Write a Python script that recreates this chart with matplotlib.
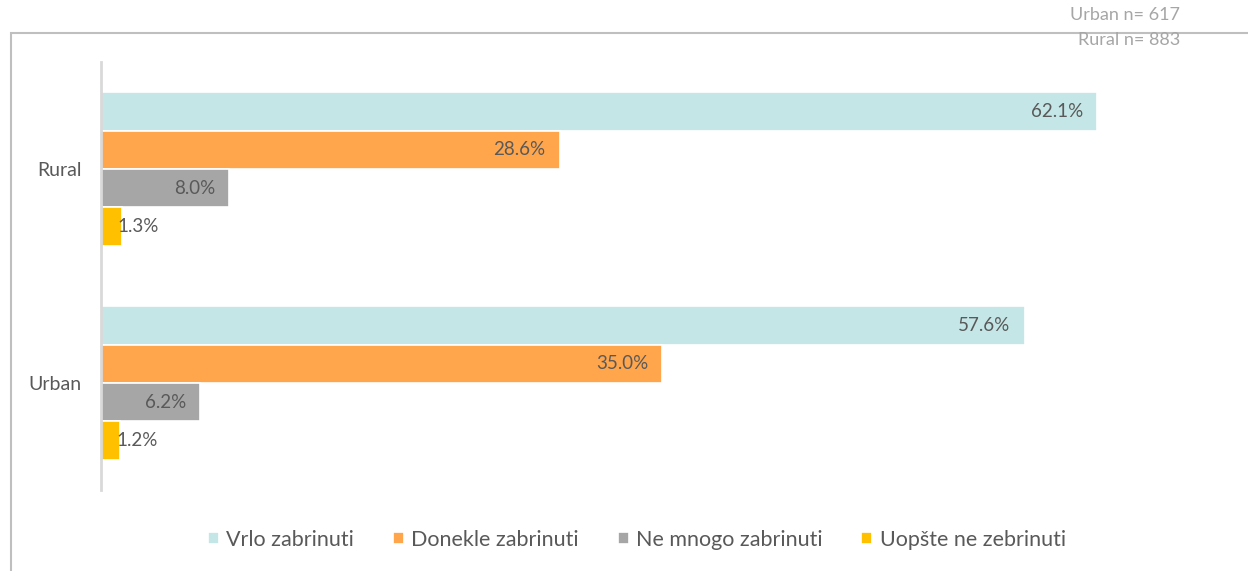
import numpy as np
import matplotlib
matplotlib.use("Agg")
import matplotlib.pyplot as plt
from matplotlib.patches import Rectangle

groups = ["Rural", "Urban"]
series = ["Vrlo zabrinuti", "Donekle zabrinuti", "Ne mnogo zabrinuti", "Uopšte ne zebrinuti"]
vrlo = [62.1, 57.6]
donekle = [28.6, 35.0]
ne_mnogo = [8.0, 6.2]
uopste = [1.3, 1.2]
notes = ["Urban n= 617", "Rural n= 883"]

colors = ["#C5E6E6", "#FFA64D", "#A6A6A6", "#FFC000"]
txt = "#595959"

plt.rcParams['font.family'] = ['Lato', 'DejaVu Sans']

fig = plt.figure(figsize=(12.48, 5.71), dpi=100)
W, H = 1248, 571
ax = fig.add_axes([101 / W, 1 - 490 / H, (1224 - 101) / W, (490 - 62) / H])

y = np.arange(len(groups))
step = 0.179
vals = [vrlo, donekle, ne_mnogo, uopste]
for i, (name, v, c) in enumerate(zip(series, vals, colors)):
    pos = y + (i - 1.5) * step
    ax.barh(pos, v, height=step, color=c, edgecolor="white", linewidth=1.2, label=name)
    for p, val in zip(pos, v):
        lab = f"{val:.1f}%"
        if val < 3:
            ax.text(val - 0.25, p, lab, ha="left", va="center", fontsize=13.5, color=txt)
        else:
            ax.text(val - 0.9, p, lab, ha="right", va="center", fontsize=13.5, color=txt)

ax.set_xlim(0, 70)
ax.set_ylim(1.5, -0.5)
ax.set_yticks(y)
ax.set_yticklabels(groups, fontsize=14, color=txt)
ax.tick_params(axis="y", length=0, pad=14)
ax.set_xticks([])
for s in ["top", "right", "bottom"]:
    ax.spines[s].set_visible(False)
ax.spines["left"].set_color("#D9D9D9")
ax.spines["left"].set_linewidth(2)

# outer frame
fig.patches.append(Rectangle((11 / W, -0.05), 1.1, 1 - 33 / H + 0.05, transform=fig.transFigure,
                             fill=False, edgecolor="#BFBFBF", linewidth=1.5))

fig.text(1180 / W, 1 - 15 / H, notes[0], ha="right", va="center", fontsize=13, color="#A6A6A6")
fig.text(1180 / W, 1 - 40 / H, notes[1], ha="right", va="center", fontsize=13, color="#A6A6A6")

fig.legend(loc="center", bbox_to_anchor=(637 / W, 1 - 540 / H), ncol=4, frameon=False,
           fontsize=15.5, handlelength=0.5, handleheight=0.5, handletextpad=0.35,
           columnspacing=1.8, labelcolor=txt)

fig.savefig("out.png", dpi=100)
